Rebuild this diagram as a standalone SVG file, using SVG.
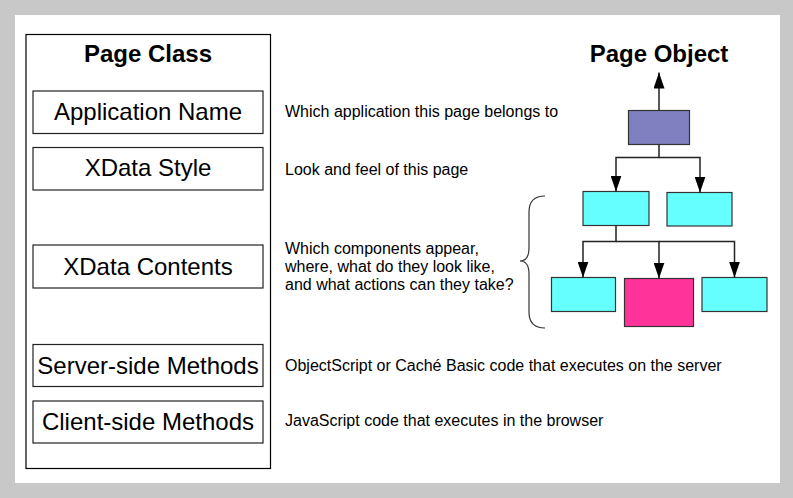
<svg xmlns="http://www.w3.org/2000/svg" width="793" height="498" viewBox="0 0 793 498">
<defs>
<style>
.t{font-family:"Liberation Sans",Arial,sans-serif;fill:#000}
.big{font-size:24px;text-anchor:middle}
.title{font-size:24px;font-weight:bold;text-anchor:middle}
.sm{font-size:16px}
.box{fill:#fff;stroke:#222;stroke-width:1.2}
.nd{stroke:#333;stroke-width:1.2}
.cn{fill:none;stroke:#222;stroke-width:1.5}
</style>
<marker id="ah" markerUnits="userSpaceOnUse" markerWidth="16" markerHeight="11" refX="16" refY="5.5" orient="auto">
<path d="M0,0 L16,5.5 L0,11 Z" fill="#000"/>
</marker>
</defs>
<rect x="0" y="0" width="793" height="498" fill="#c8c8c8"/>
<rect x="15" y="15" width="765" height="468" fill="#fff"/>

<g id="page-class">
<rect x="26" y="34.5" width="244.5" height="434" fill="#fff" stroke="#000" stroke-width="1.2"/>
<text class="t title" x="148" y="62">Page Class</text>
</g>
<g id="application-name">
<rect class="box" x="33" y="91" width="230" height="42.5"/>
<text class="t big" x="148" y="120">Application Name</text>
</g>
<g id="xdata-style">
<rect class="box" x="33" y="147.5" width="230" height="42.5"/>
<text class="t big" x="148" y="176">XData Style</text>
</g>
<g id="xdata-contents">
<rect class="box" x="33" y="245" width="230" height="43"/>
<text class="t big" x="148" y="275">XData Contents</text>
</g>
<g id="server-side-methods">
<rect class="box" x="33" y="344.5" width="230" height="42"/>
<text class="t big" x="148" y="374">Server-side Methods</text>
</g>
<g id="client-side-methods">
<rect class="box" x="33" y="401" width="230" height="42"/>
<text class="t big" x="148" y="430">Client-side Methods</text>
</g>

<g id="descriptions">
<text class="t sm" x="285" y="117">Which application this page belongs to</text>
<text class="t sm" x="285" y="175">Look and feel of this page</text>
<text class="t sm" x="285" y="254">Which components appear,</text>
<text class="t sm" x="285" y="272">where, what do they look like,</text>
<text class="t sm" x="285" y="290">and what actions can they take?</text>
<text class="t sm" x="285" y="371">ObjectScript or Caché Basic code that executes on the server</text>
<text class="t sm" x="285" y="426">JavaScript code that executes in the browser</text>
</g>

<g id="brace">
<path d="M545,196 Q529,196 529,212 L529,248 Q529,261 520,261 Q529,261 529,274 L529,312 Q529,328 545,328" fill="none" stroke="#333" stroke-width="1.2"/>
</g>

<g id="page-object">
<text class="t title" x="659" y="62">Page Object</text>
</g>
<g id="root-node"><rect class="nd" x="628.5" y="110.5" width="61" height="34" fill="#8080c0"/></g>
<g id="child-1"><rect class="nd" x="583" y="191.5" width="66" height="34" fill="#66ffff"/></g>
<g id="child-2"><rect class="nd" x="667" y="192.5" width="65" height="33.5" fill="#66ffff"/></g>
<g id="grandchild-1"><rect class="nd" x="551.5" y="277.5" width="64" height="34" fill="#66ffff"/></g>
<g id="grandchild-2"><rect class="nd" x="624.5" y="278.5" width="69" height="48" fill="#ff3399"/></g>
<g id="grandchild-3"><rect class="nd" x="702" y="277.5" width="65" height="34" fill="#66ffff"/></g>

<g id="connectors">
<path class="cn" d="M659,110.5 L659,72.5" marker-end="url(#ah)"/>
<path class="cn" d="M659,144.5 L659,157.5 L616,157.5 L616,191.5" marker-end="url(#ah)"/>
<path class="cn" d="M659,157.5 L700,157.5 L700,192.5" marker-end="url(#ah)"/>
<path class="cn" d="M616,225.5 L616,241.5 L583,241.5 L583,277.5" marker-end="url(#ah)"/>
<path class="cn" d="M616,241.5 L659,241.5 L659,278.5" marker-end="url(#ah)"/>
<path class="cn" d="M659,241.5 L734.5,241.5 L734.5,277.5" marker-end="url(#ah)"/>
</g>
</svg>
